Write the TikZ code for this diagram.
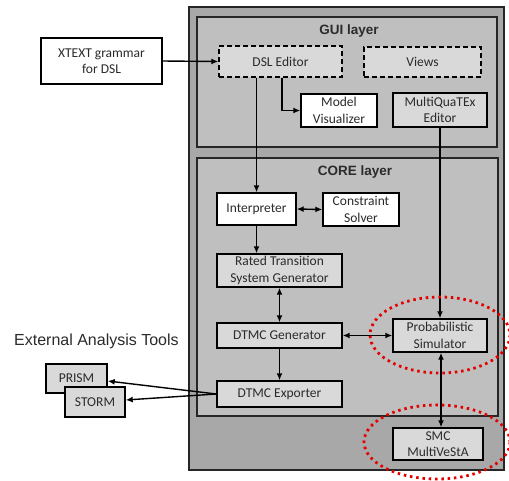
\documentclass[tikz,border=0pt]{standalone}
\usepackage{fontspec}
\setmainfont{Carlito}
\newfontfamily\arialf{Liberation Sans}
\usetikzlibrary{arrows.meta,calc}
\definecolor{outerfill}{HTML}{A8A8A8}
\definecolor{layerfill}{HTML}{BFBFBF}
\definecolor{boxfill}{HTML}{D9D9D9}
\definecolor{textgray}{HTML}{2B2B2B}
\tikzset{
  box/.style={draw=black, line width=1.4pt, fill=boxfill, align=center, inner sep=0pt,
     text=textgray, font=\fontsize{13.5}{16.5}\selectfont},
  whitebox/.style={box, fill=white},
  dashbox/.style={box, dash pattern=on 5pt off 3pt},
  layer/.style={draw=black!85, line width=1.7pt},
  conn/.style={line width=1.4pt, -{Latex[length=7pt,width=6pt]}},
  biconn/.style={line width=1.4pt, {Latex[length=7pt,width=6pt]}-{Latex[length=7pt,width=6pt]}},
  redring/.style={draw=red!90!black, line width=2.8pt, dash pattern=on 2.5pt off 3.8pt},
  title/.style={text=textgray, font=\arialf\bfseries\fontsize{13.5}{16}\selectfont}
}
\begin{document}
\begin{tikzpicture}[x=1pt,y=-1pt]
\useasboundingbox (0,0) rectangle (509,480);
% layers
\draw[layer, fill=outerfill] (189,7) rectangle (504,470);
\draw[layer, fill=layerfill] (197,17) rectangle (497,147);
\draw[layer, fill=layerfill] (197,158) rectangle (498,416);
\node[title] (guit) at (349,31) {GUI layer};
\node[title] (coret) at (355,172) {CORE layer};
% nodes
\node[whitebox, minimum width=121pt, minimum height=46pt] (xtext) at (101.5,61) {XTEXT grammar\\for DSL};
\node[dashbox, minimum width=123pt, minimum height=31pt] (dsl) at (280.5,61.5) {DSL Editor};
\node[dashbox, minimum width=117pt, minimum height=30pt] (views) at (422.5,62) {Views};
\node[whitebox, minimum width=76pt, minimum height=33pt] (modelvis) at (339,110.5) {Model\\Visualizer};
\node[box, minimum width=94pt, minimum height=34pt] (mqe) at (440,110) {MultiQuaTEx\\Editor};
\node[whitebox, minimum width=79pt, minimum height=32pt] (interp) at (256.5,209) {Interpreter};
\node[whitebox, minimum width=76pt, minimum height=33pt] (cs) at (361,209.5) {Constraint\\Solver};
\node[box, minimum width=125pt, minimum height=33pt] (rts) at (279.5,270.5) {Rated Transition\\System Generator};
\node[box, minimum width=125pt, minimum height=25pt] (dtmcg) at (279.5,335.5) {DTMC Generator};
\node[box, minimum width=94pt, minimum height=33pt] (prob) at (440,335.5) {Probabilistic\\Simulator};
\node[box, minimum width=125pt, minimum height=26pt] (dtmce) at (279.5,394) {DTMC Exporter};
\node[box, minimum width=90pt, minimum height=32pt] (smc) at (438,444) {SMC\\MultiVeStA};
\node[box, minimum width=61pt, minimum height=29pt] (prism) at (76.5,378.5) {PRISM};
\node[box, minimum width=60pt, minimum height=30pt] (storm) at (95,402) {STORM};
\node[text=textgray, font=\arialf\fontsize{16}{18}\selectfont, anchor=west, inner sep=0pt] (ext) at (14,341) {External Analysis Tools};
% connectors
\draw[conn] (xtext.east) -- (dsl.west);
\draw[conn] ([xshift=1.5pt]dsl.south) |- (modelvis.west);
\draw[conn] (dsl.south -| interp.north) -- (interp.north);
\draw[biconn] (interp.east) -- (cs.west);
\draw[conn] (interp.south) -- (interp.south |- rts.north);
\draw[biconn] (rts.south) -- (dtmcg.north);
\draw[biconn] (dtmcg.east) -- (prob.west);
\draw[conn] (dtmcg.south) -- (dtmce.north);
\draw[conn] (mqe.south) -- (prob.north);
\draw[biconn] ([xshift=1pt]prob.south) -- ([xshift=1pt]prob.south |- smc.north);
\draw[conn] (dtmce.west) -- ([yshift=-2.5pt]prism.east);
\draw[conn] (dtmce.west) -- ([yshift=2pt]storm.east);
% highlight rings
\draw[redring] (440,335) ellipse [x radius=70, y radius=38];
\draw[redring] (437,442) ellipse [x radius=73, y radius=37];
\end{tikzpicture}
\end{document}
